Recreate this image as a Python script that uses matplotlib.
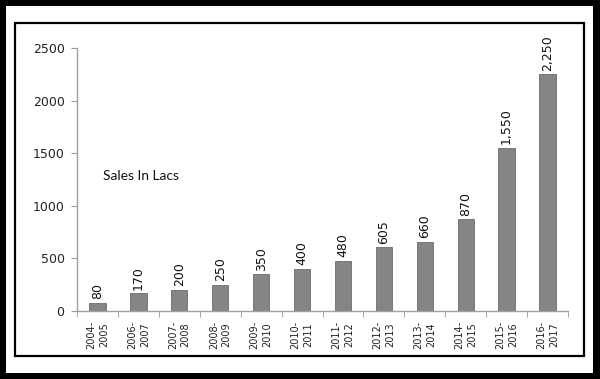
import matplotlib
matplotlib.use("Agg")
import matplotlib.pyplot as plt
from matplotlib.patches import Rectangle

years = ["2004-\n2005", "2006-\n2007", "2007-\n2008", "2008-\n2009", "2009-\n2010",
         "2010-\n2011", "2011-\n2012", "2012-\n2013", "2013-\n2014", "2014-\n2015",
         "2015-\n2016", "2016-\n2017"]
sales = [80, 170, 200, 250, 350, 400, 480, 605, 660, 870, 1550, 2250]
value_labels = ["80", "170", "200", "250", "350", "400", "480", "605", "660", "870",
                "1,550", "2,250"]
yticks = [0, 500, 1000, 1500, 2000, 2500]

W, H = 600, 379
fig = plt.figure(figsize=(W / 100, H / 100), dpi=100, facecolor="black")

# white page and inner frame
fig.add_artist(Rectangle((6 / W, 6 / H), 587 / W, 367 / H, transform=fig.transFigure,
                         facecolor="white", edgecolor="none", zorder=-2))
fig.add_artist(Rectangle((15 / W, 23 / H), 569 / W, 333 / H, transform=fig.transFigure,
                         facecolor="none", edgecolor="black", lw=1.6, zorder=-1))

ax = fig.add_axes([77 / W, 68 / H, 491 / W, 263 / H])
ax.set_zorder(2)
ax.set_facecolor("none")
x = list(range(len(sales)))
bars = ax.bar(x, sales, width=0.4, color="#858585", edgecolor="#6b6b6b", lw=0.6, zorder=2)

for xi, v, lab in zip(x, sales, value_labels):
    ax.annotate(lab, (xi, v), xytext=(0, 2.5), textcoords="offset points",
                rotation=90, ha="center", va="bottom", fontsize=9,
                color="#111111", family="DejaVu Sans", fontweight="medium")

ax.set_xlim(-0.5, len(sales) - 0.5)
ax.set_ylim(0, 2500)
ax.set_yticks(yticks)
ax.set_yticklabels([str(t) for t in yticks], fontsize=9, color="#222222", family="DejaVu Sans")
ax.set_xticks(x)
ax.set_xticklabels(years, rotation=90, fontsize=7, color="#222222", family="DejaVu Sans",
                   ha="center", va="top", multialignment="center", linespacing=1.35)
ax.set_xticks([i - 0.5 for i in range(len(sales) + 1)], minor=True)
ax.tick_params(axis="x", which="major", length=0, pad=7)
ax.tick_params(axis="x", which="minor", length=4, color="#9a9a9a", direction="out")
ax.tick_params(axis="y", length=4, color="#9a9a9a", pad=5)

for s in ["top", "right"]:
    ax.spines[s].set_visible(False)
for s in ["left", "bottom"]:
    ax.spines[s].set_color("#a0a0a0")
    ax.spines[s].set_linewidth(1.0)

fig.text(103 / W, 1 - 176 / H, "Sales In Lacs", fontsize=10, family="Lato",
         color="#111111", ha="left", va="center", zorder=3)

fig.savefig("out.png", dpi=100, facecolor=fig.get_facecolor())
